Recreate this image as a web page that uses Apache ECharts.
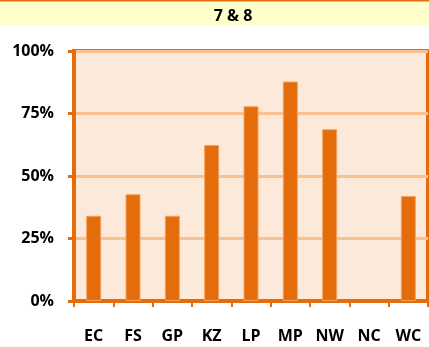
<!DOCTYPE html>
<html>
<head>
<meta charset="utf-8">
<script src="https://cdn.jsdelivr.net/npm/echarts@6/dist/echarts.min.js"></script>
<style>
  html, body { margin: 0; padding: 0; background: #ffffff; }
  #chart { width: 429px; height: 347px; }
</style>
</head>
<body>
<div id="chart"></div>
<script>
// Provinces along the category axis
const provinces = ['EC', 'FS', 'GP', 'KZ', 'LP', 'MP', 'NW', 'NC', 'WC'];
// Share per province (percent) for grades 7 & 8
const shares = [34.1, 42.7, 34.1, 62.4, 77.9, 87.8, 68.7, 0, 42.0];
// Value-axis ticks (percent)
const yTicks = [0, 25, 50, 75, 100];
const titleText = '7 & 8';

const ORANGE = '#E46C0A';
const FONT = 'Open Sans';

const chart = echarts.init(document.getElementById('chart'), null, { renderer: 'canvas' });

// Zero-height bars get no outline so nothing shows on the baseline
const barData = shares.map(v => ({
  value: v,
  itemStyle: v === 0 ? { borderWidth: 0 } : {}
}));

chart.setOption({
  animation: false,
  backgroundColor: '#ffffff',
  graphic: [
    { type: 'rect', z: -1, shape: { x: 0, y: 0, width: 429, height: 25 }, style: { fill: '#FFFFCC' } },
    { type: 'rect', z: 0, shape: { x: 0, y: 0, width: 429, height: 1.5 }, style: { fill: ORANGE } }
  ],
  title: {
    text: titleText,
    left: 228,
    top: 3,
    textAlign: 'center',
    textStyle: { fontFamily: FONT, fontWeight: 'bold', fontSize: 16, color: '#000000' }
  },
  grid: {
    left: 74, right: 1, top: 51, bottom: 46,
    show: true,
    backgroundColor: '#FDE9D9',
    borderColor: ORANGE,
    borderWidth: 4
  },
  xAxis: {
    type: 'category',
    data: provinces,
    axisLine: { show: true, lineStyle: { color: ORANGE, width: 3 } },
    axisTick: { show: true, length: 6, lineStyle: { color: ORANGE, width: 2 } },
    axisLabel: {
      margin: 27,
      fontFamily: FONT, fontWeight: 'bold', fontSize: 16, color: '#000000'
    }
  },
  yAxis: {
    type: 'value',
    min: yTicks[0],
    max: yTicks[yTicks.length - 1],
    interval: 25,
    axisLine: { show: true, lineStyle: { color: ORANGE, width: 4 } },
    axisTick: { show: true, length: 6, lineStyle: { color: ORANGE, width: 3 } },
    splitLine: { show: true, lineStyle: { color: '#FAC090', width: 3 } },
    axisLabel: {
      margin: 20,
      formatter: v => v + '%',
      fontFamily: FONT, fontWeight: 'bold', fontSize: 16, color: '#000000'
    }
  },
  series: [{
    type: 'bar',
    data: barData,
    barWidth: 15,
    itemStyle: { color: ORANGE, borderColor: '#F3A160', borderWidth: 1 }
  }]
});
</script>
</body>
</html>
